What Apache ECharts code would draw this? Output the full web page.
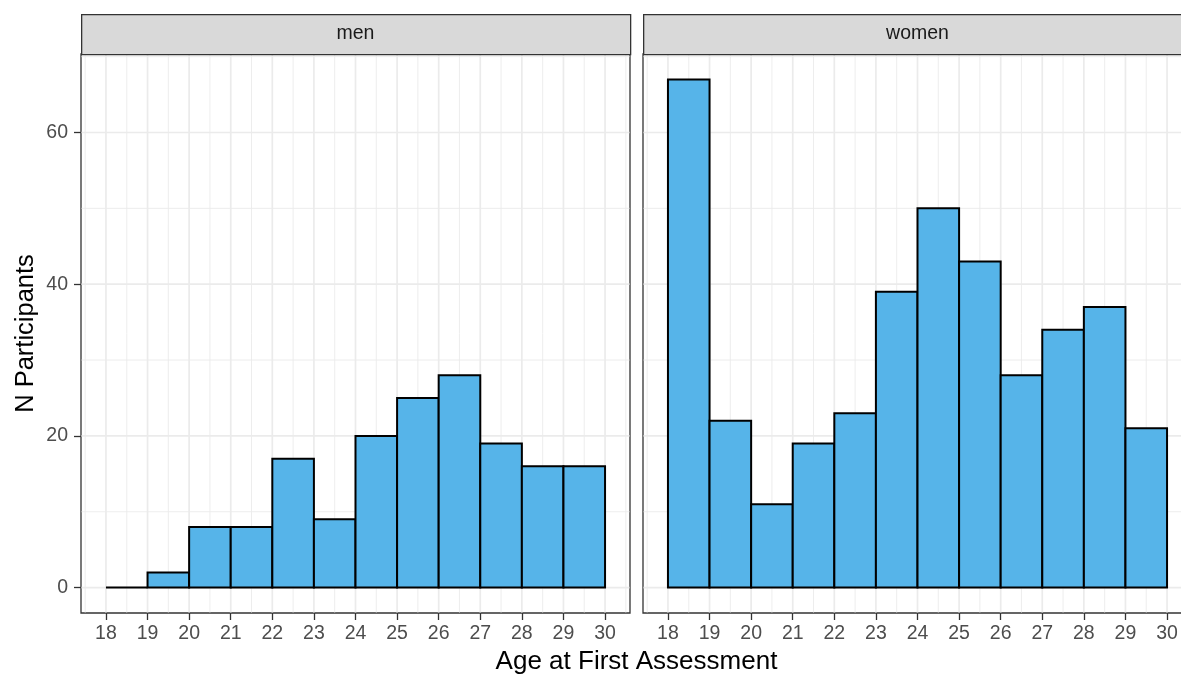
<!DOCTYPE html>
<html>
<head>
<meta charset="utf-8">
<script src="https://cdn.jsdelivr.net/npm/echarts@6/dist/echarts.min.js"></script>
<style>
  html, body { margin: 0; padding: 0; background: #ffffff; }
  #chart { width: 1181px; height: 675px; }
</style>
</head>
<body>
<div id="chart"></div>
<script>
// Histogram bins: one-year bins starting at each age
const binStarts = [18, 19, 20, 21, 22, 23, 24, 25, 26, 27, 28, 29];
const binWidth = 1;
const menCounts = [0, 2, 8, 8, 17, 9, 20, 25, 28, 19, 16, 16];
const womenCounts = [67, 22, 11, 19, 23, 39, 50, 43, 28, 34, 37, 21];
const panelNames = ['men', 'women'];

// Axis breaks
const xTicks = [18, 19, 20, 21, 22, 23, 24, 25, 26, 27, 28, 29, 30];
const xMinor = [17.5, 18.5, 19.5, 20.5, 21.5, 22.5, 23.5, 24.5, 25.5, 26.5, 27.5, 28.5, 29.5, 30.5];
const yTicks = [0, 20, 40, 60];
const yMinor = [10, 30, 50, 70];
const xRange = [17.4, 30.6];
const yRange = [-3.35, 70.35];

const FONT = "'Liberation Sans', Arial, sans-serif";
const PLOT_TOP = 54, PLOT_H = 559, PANEL_W = 549;
const PANEL_LEFT = [81, 643];
const STRIP_H = 40;
const TICK_LEN = 7;

const gridData = []
  .concat(xMinor.map(v => [0, v, 0]))
  .concat(yMinor.map(v => [1, v, 0]))
  .concat(xTicks.map(v => [0, v, 1]))
  .concat(yTicks.map(v => [1, v, 1]));

function renderGridLine(params, api) {
  const cs = params.coordSys;
  const dir = api.value(0), v = api.value(1), major = api.value(2);
  let shape;
  if (dir === 0) {
    const x = api.coord([v, 0])[0];
    shape = { x1: x, y1: cs.y + 0.5, x2: x, y2: cs.y + cs.height - 0.5 };
  } else {
    const y = api.coord([xRange[0], v])[1];
    shape = { x1: cs.x + 0.5, y1: y, x2: cs.x + cs.width - 0.5, y2: y };
  }
  return {
    type: 'line',
    shape: shape,
    style: { stroke: '#EBEBEB', lineWidth: major ? 1.7 : 0.9 }
  };
}

function renderBar(params, api) {
  const x0 = api.value(0), x1 = api.value(1), n = api.value(2);
  const pTop = api.coord([x0, n]);
  const pBot = api.coord([x1, 0]);
  return {
    type: 'rect',
    shape: { x: pTop[0], y: pTop[1], width: pBot[0] - pTop[0], height: pBot[1] - pTop[1] },
    style: { fill: '#56B4E9', stroke: '#000000', lineWidth: 2 }
  };
}

function binData(counts) {
  return binStarts.map((s, i) => [s, s + binWidth, counts[i]]);
}

const grids = PANEL_LEFT.map(left => ({
  left: left, top: PLOT_TOP, width: PANEL_W, height: PLOT_H,
  outerBoundsMode: 'none', containLabel: false,
  show: true, borderColor: '#333333', borderWidth: 1.3, backgroundColor: 'transparent'
}));

const xAxes = PANEL_LEFT.map((_, i) => ({
  type: 'value', gridIndex: i, min: xRange[0], max: xRange[1], position: 'bottom',
  axisLine: { show: false, onZero: false },
  splitLine: { show: false },
  axisTick: { show: true, customValues: xTicks, length: TICK_LEN, lineStyle: { color: '#333333', width: 1.3 } },
  axisLabel: { customValues: xTicks, color: '#4D4D4D', fontSize: 19.5, fontFamily: FONT, margin: TICK_LEN + 4 }
}));

const yAxes = PANEL_LEFT.map((_, i) => ({
  type: 'value', gridIndex: i, min: yRange[0], max: yRange[1], position: 'left',
  axisLine: { show: false, onZero: false },
  splitLine: { show: false },
  axisTick: { show: i === 0, customValues: yTicks, length: TICK_LEN, lineStyle: { color: '#333333', width: 1.3 } },
  axisLabel: { show: i === 0, customValues: yTicks, color: '#4D4D4D', fontSize: 19.5, fontFamily: FONT, margin: TICK_LEN + 6 }
}));

const series = [];
[menCounts, womenCounts].forEach((counts, i) => {
  series.push({
    type: 'custom', xAxisIndex: i, yAxisIndex: i, z: 1, silent: true, clip: false,
    renderItem: renderGridLine, data: gridData
  });
  series.push({
    type: 'custom', name: panelNames[i], xAxisIndex: i, yAxisIndex: i, z: 3,
    renderItem: renderBar, encode: { x: [0, 1], y: 2 }, data: binData(counts)
  });
});

// Facet strips and axis titles
const graphics = [];
PANEL_LEFT.forEach((left, i) => {
  graphics.push({
    type: 'rect', left: left, top: PLOT_TOP - STRIP_H, z: 10,
    shape: { width: PANEL_W, height: STRIP_H },
    style: { fill: '#D9D9D9', stroke: '#333333', lineWidth: 1.3 }
  });
  graphics.push({
    type: 'text', z: 11,
    x: left + PANEL_W / 2, y: PLOT_TOP - STRIP_H / 2,
    style: { text: panelNames[i], fill: '#1A1A1A', font: '19.5px ' + FONT, align: 'center', verticalAlign: 'middle' }
  });
});
graphics.push({
  type: 'text', z: 11,
  x: (PANEL_LEFT[0] + PANEL_LEFT[1] + PANEL_W) / 2, y: 662,
  style: { text: 'Age at First Assessment', fill: '#000000', font: '26px ' + FONT, align: 'center', verticalAlign: 'middle' }
});
graphics.push({
  type: 'text', z: 11,
  x: 26, y: PLOT_TOP + PLOT_H / 2, rotation: Math.PI / 2,
  style: { text: 'N Participants', fill: '#000000', font: '25.5px ' + FONT, align: 'center', verticalAlign: 'middle' }
});

const chart = echarts.init(document.getElementById('chart'), null, { renderer: 'canvas' });
chart.setOption({
  animation: false,
  backgroundColor: '#ffffff',
  grid: grids,
  xAxis: xAxes,
  yAxis: yAxes,
  series: series,
  graphic: graphics
});
</script>
</body>
</html>
